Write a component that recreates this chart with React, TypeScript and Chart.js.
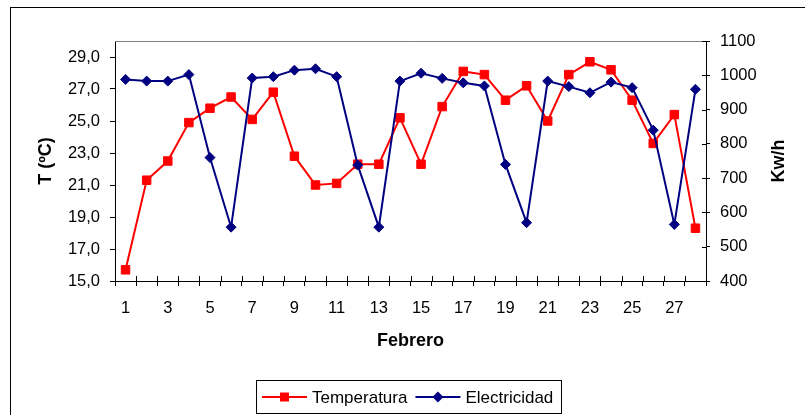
import React, { useEffect, useRef } from 'react';
import { Chart, registerables } from 'chart.js';

Chart.register(...registerables);

const dias = ['1','2','3','4','5','6','7','8','9','10','11','12','13','14','15','16','17','18','19','20','21','22','23','24','25','26','27','28'];
const temperatura = [15.7, 21.3, 22.5, 24.9, 25.8, 26.5, 25.1, 26.8, 22.8, 21.0, 21.1, 22.3, 22.3, 25.2, 22.3, 25.9, 28.1, 27.9, 26.3, 27.2, 25.0, 27.9, 28.7, 28.2, 26.3, 23.6, 25.4, 18.3];
const electricidad = [988, 983, 983, 1002, 760, 557, 992, 996, 1015, 1019, 996, 738, 557, 983, 1006, 991, 978, 969, 740, 570, 983, 967, 949, 980, 964, 840, 565, 959];
const tempTicks = [15, 17, 19, 21, 23, 25, 27, 29];
const kwhTicks = [400, 500, 600, 700, 800, 900, 1000, 1100];

const FONT = 'Arial, "Liberation Sans", Helvetica, sans-serif';
const RED = '#FF0000';
const NAVY = '#000080';

function drawMarker(ctx: CanvasRenderingContext2D, style: string, x: number, y: number, color: string) {
  ctx.fillStyle = color;
  ctx.beginPath();
  if (style === 'rect') {
    ctx.rect(x - 4.5, y - 4.5, 9, 9);
  } else {
    ctx.moveTo(x, y - 5.5);
    ctx.lineTo(x + 5.5, y);
    ctx.lineTo(x, y + 5.5);
    ctx.lineTo(x - 5.5, y);
    ctx.closePath();
  }
  ctx.fill();
}

const decorPlugin = {
  id: 'decor',
  afterDraw(chart: any) {
    const { ctx, chartArea: ca, scales } = chart;
    ctx.save();
    // outer frame
    ctx.strokeStyle = '#000';
    ctx.lineWidth = 1;
    ctx.strokeRect(10.5, 7.5, chart.width + 20, chart.height + 20);
    // plot area top border
    ctx.strokeStyle = '#808080';
    ctx.beginPath();
    ctx.moveTo(ca.left, Math.round(ca.top) + 0.5);
    ctx.lineTo(ca.right, Math.round(ca.top) + 0.5);
    ctx.stroke();
    // inner parts of crossing ticks
    ctx.strokeStyle = '#000';
    ctx.beginPath();
    const yR = scales.y1;
    kwhTicks.forEach((v) => {
      const py = Math.round(yR.getPixelForValue(v)) + 0.5;
      ctx.moveTo(ca.right - 4, py);
      ctx.lineTo(ca.right, py);
    });
    const xs = scales.x;
    for (let i = 0; i <= dias.length; i++) {
      const px = Math.round(xs.getPixelForValue(i - 0.5)) + 0.5;
      ctx.moveTo(px, ca.bottom - 5);
      ctx.lineTo(px, ca.bottom);
    }
    ctx.stroke();

    // axis titles
    ctx.fillStyle = '#000';
    ctx.font = `bold 18px ${FONT}`;
    ctx.textAlign = 'center';
    ctx.textBaseline = 'middle';
    const midY = (ca.top + ca.bottom) / 2;
    ctx.save();
    ctx.translate(46, midY);
    ctx.rotate(-Math.PI / 2);
    ctx.fillText('T (ºC)', 0, 0);
    ctx.restore();
    ctx.save();
    ctx.translate(779, midY);
    ctx.rotate(-Math.PI / 2);
    ctx.fillText('Kw/h', 0, 0);
    ctx.restore();
    ctx.fillText('Febrero', (ca.left + ca.right) / 2, 341);

    // legend
    const items = chart.data.datasets.map((d: any) => ({
      label: d.label,
      color: d.borderColor,
      style: d.pointStyle,
    }));
    ctx.font = `17px ${FONT}`;
    const lineLen = 45;
    const gapText = 5;
    const gapItem = 8;
    const padL = 6;
    const padR = 8;
    let total = padL;
    items.forEach((it: any, i: number) => {
      total += lineLen + gapText + ctx.measureText(it.label).width;
      if (i < items.length - 1) total += gapItem;
    });
    total += padR;
    const boxH = 33;
    const boxLeft = Math.round(408.5 - total / 2);
    const boxTop = 380;
    ctx.strokeStyle = '#000';
    ctx.strokeRect(boxLeft + 0.5, boxTop + 0.5, Math.round(total), boxH);
    const cy = boxTop + boxH / 2 + 0.5;
    let x = boxLeft + padL;
    ctx.textAlign = 'left';
    items.forEach((it: any) => {
      ctx.strokeStyle = it.color;
      ctx.lineWidth = 2;
      ctx.beginPath();
      ctx.moveTo(x, cy);
      ctx.lineTo(x + lineLen, cy);
      ctx.stroke();
      drawMarker(ctx, it.style, x + lineLen / 2, cy, it.color);
      x += lineLen + gapText;
      ctx.fillStyle = '#000';
      ctx.fillText(it.label, x, cy + 1);
      x += ctx.measureText(it.label).width + gapItem;
    });
    ctx.restore();
  },
};

export default function App() {
  const ref = useRef<HTMLCanvasElement | null>(null);
  useEffect(() => {
    if (!ref.current) return;
    const fmt1 = (v: any) => Number(v).toFixed(1).replace('.', ',');
    const chart = new Chart(ref.current, {
      type: 'line',
      data: {
        labels: dias,
        datasets: [
          {
            label: 'Temperatura',
            data: temperatura,
            yAxisID: 'y',
            borderColor: RED,
            backgroundColor: RED,
            borderWidth: 2,
            pointStyle: 'rect',
            pointRadius: 6,
            pointBorderWidth: 1,
            pointBorderColor: RED,
            pointBackgroundColor: RED,
            tension: 0,
            order: 1,
          },
          {
            label: 'Electricidad',
            data: electricidad,
            yAxisID: 'y1',
            borderColor: NAVY,
            backgroundColor: NAVY,
            borderWidth: 2,
            pointStyle: 'rectRot',
            pointRadius: 5,
            pointBorderWidth: 1,
            pointBorderColor: NAVY,
            pointBackgroundColor: NAVY,
            tension: 0,
            order: 0,
          },
        ],
      },
      options: {
        responsive: false,
        animation: false,
        devicePixelRatio: 1,
        layout: { padding: { top: 41, left: 0, right: 0, bottom: 0 } },
        plugins: { legend: { display: false }, tooltip: { enabled: false } },
        scales: {
          x: {
            type: 'category',
            offset: true,
            border: { display: true, color: '#000', width: 1 },
            grid: { display: true, drawOnChartArea: false, offset: true, color: '#000', tickLength: 5, tickWidth: 1 },
            ticks: {
              autoSkip: false,
              maxRotation: 0,
              color: '#000',
              padding: 13,
              font: { family: FONT, size: 16.5 },
              callback: (_v: any, i: number) => (i % 2 === 0 ? dias[i] : ''),
            },
            afterFit: (s: any) => { s.height = 134; },
          },
          y: {
            type: 'linear',
            position: 'left',
            min: 15,
            max: 30,
            border: { display: true, color: '#000', width: 1 },
            grid: { display: true, drawOnChartArea: false, color: '#000', tickLength: 5 },
            afterBuildTicks: (s: any) => { s.ticks = tempTicks.map((v) => ({ value: v })); },
            ticks: { color: '#000', padding: 10, font: { family: FONT, size: 16.5 }, callback: fmt1 },
            afterFit: (s: any) => { s.width = 115; },
          },
          y1: {
            type: 'linear',
            position: 'right',
            min: 400,
            max: 1100,
            border: { display: true, color: '#000', width: 1 },
            grid: { display: true, drawOnChartArea: false, color: '#000', tickLength: 4 },
            afterBuildTicks: (s: any) => { s.ticks = kwhTicks.map((v) => ({ value: v })); },
            ticks: { color: '#000', padding: 10, font: { family: FONT, size: 16.5 }, callback: (v: any) => String(v) },
            afterFit: (s: any) => { s.width = 99; },
          },
        },
      },
      plugins: [decorPlugin],
    });
    return () => chart.destroy();
  }, []);
  return (
    <div style={{ position: 'fixed', left: 0, top: 0, width: 805, height: 415, background: '#fff' }}>
      <canvas ref={ref} width={805} height={415} style={{ display: 'block' }} />
    </div>
  );
}
